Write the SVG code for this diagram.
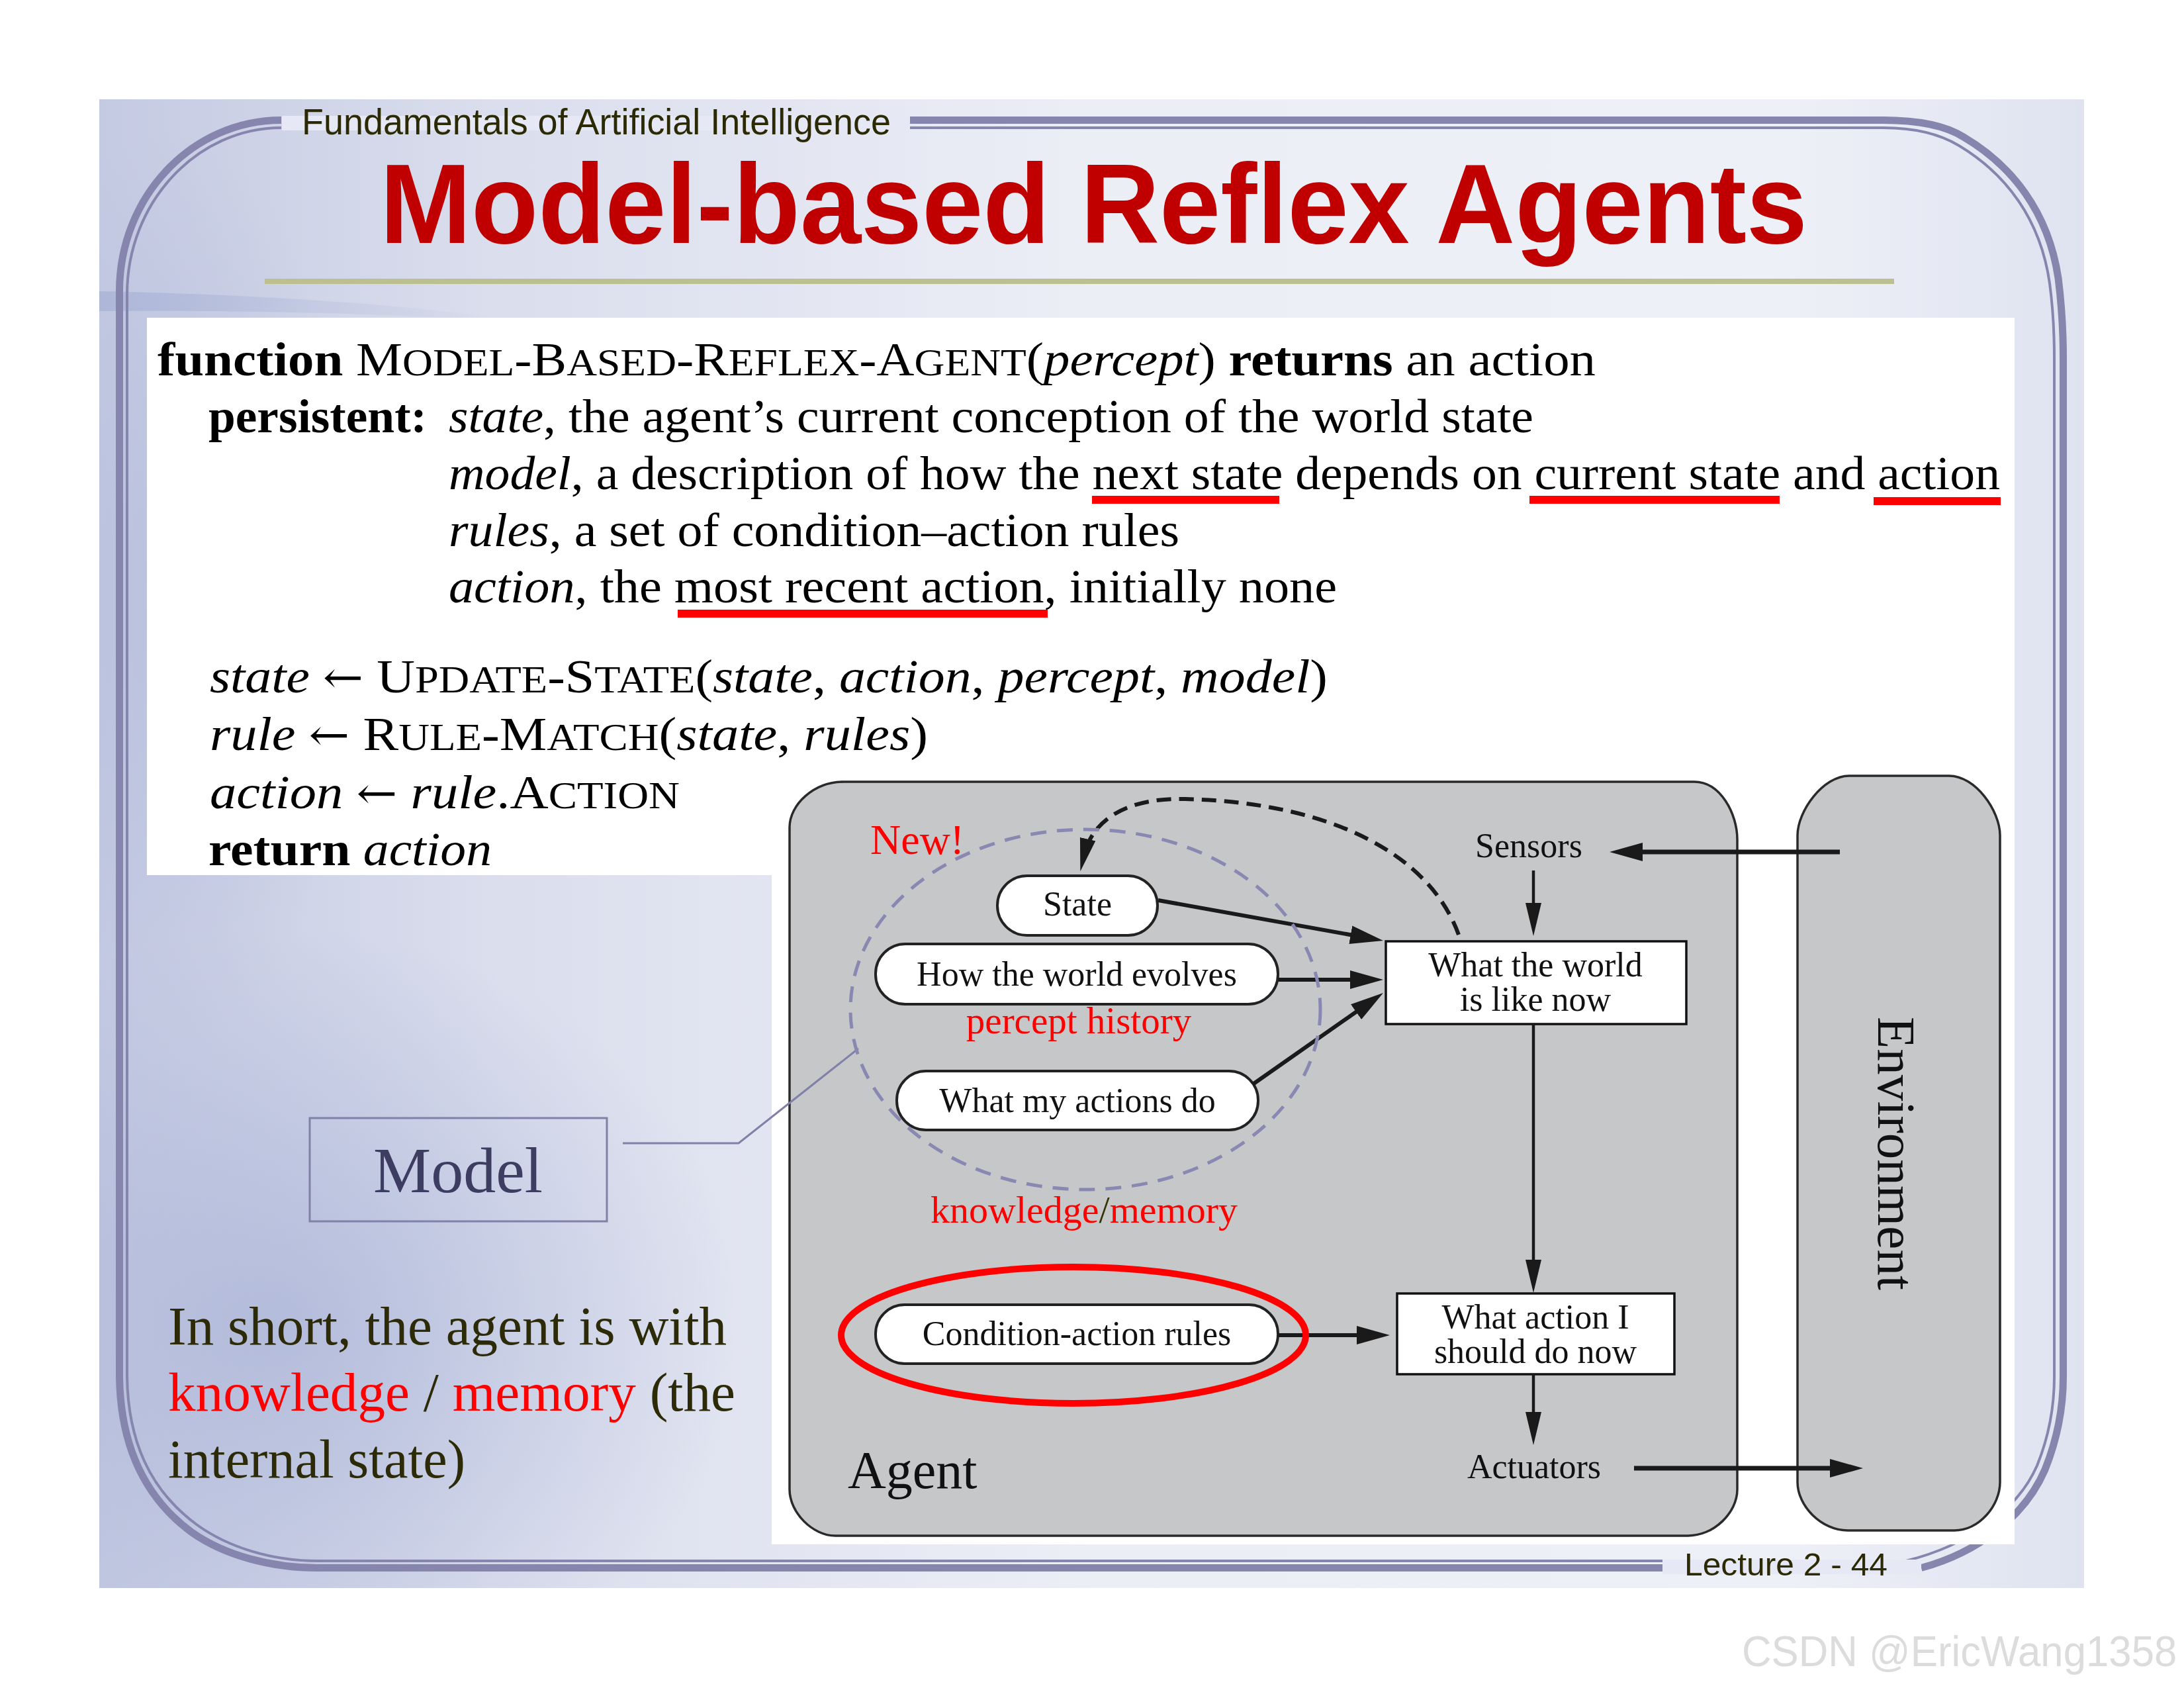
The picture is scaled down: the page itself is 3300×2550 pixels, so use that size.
<svg xmlns="http://www.w3.org/2000/svg" width="3300" height="2550" viewBox="0 0 3300 2550">
<defs>
<linearGradient id="bg" x1="0" y1="0" x2="1" y2="0">
<stop offset="0" stop-color="#c4cae2"/>
<stop offset="0.2" stop-color="#dadeed"/>
<stop offset="0.5" stop-color="#eceef6"/>
<stop offset="0.85" stop-color="#eef0f7"/>
<stop offset="1" stop-color="#dfe3f0"/>
</linearGradient>
<radialGradient id="glow" cx="0.5" cy="0.5" r="0.5">
<stop offset="0" stop-color="#a8b2d6" stop-opacity="0.7"/>
<stop offset="1" stop-color="#a8b2d6" stop-opacity="0"/>
</radialGradient>
<linearGradient id="streak" x1="0" y1="0" x2="1" y2="0">
<stop offset="0" stop-color="#9aa6d0" stop-opacity="0.8"/>
<stop offset="1" stop-color="#9aa6d0" stop-opacity="0"/>
</linearGradient>
<clipPath id="slideclip"><rect x="150" y="150" width="2999" height="2249"/></clipPath>
<marker id="ah" markerUnits="userSpaceOnUse" markerWidth="52" markerHeight="30" refX="25" refY="14" orient="auto">
<path d="M0,0 L50,14 L0,28 Z" fill="#1a1a1a"/>
</marker>
<marker id="ahs" markerUnits="userSpaceOnUse" markerWidth="52" markerHeight="26" refX="25" refY="12" orient="auto">
<path d="M0,0 L50,12 L0,24 Z" fill="#1a1a1a"/>
</marker>
</defs>
<style>
.code { font-family: "Liberation Serif", serif; font-size: 72px; fill: #000; }
.it { font-style: italic; }
.b { font-weight: bold; }
.sc { font-size: 58px; }
.ar { font-family: "DejaVu Serif", serif; font-size: 66px; }
.dg { font-family: "Liberation Serif", serif; font-size: 52px; fill: #111; text-anchor: middle; }
.pill { fill: #fff; stroke: #222; stroke-width: 4; }
.box { fill: #fff; stroke: #111; stroke-width: 3.5; }
.gray { fill: #c6c7c9; stroke: #2a2a2a; stroke-width: 3.5; }
.arr { fill: none; stroke: #1a1a1a; marker-end: url(#ah); }
.arrs { fill: none; stroke: #1a1a1a; marker-end: url(#ahs); }
.fthick { fill: none; stroke: #8585ad; stroke-width: 11; }
.fthin { fill: none; stroke: #8585ad; stroke-width: 4; }
.body { font-family: "Liberation Serif", serif; font-size: 82px; fill: #2d2a08; }
</style>

<!-- slide background -->
<rect x="0" y="0" width="3300" height="2550" fill="#ffffff"/>
<g id="slide-bg" clip-path="url(#slideclip)">
<rect x="150" y="150" width="2999" height="2249" fill="url(#bg)"/>
<ellipse cx="420" cy="2000" rx="700" ry="600" fill="url(#glow)"/>
<ellipse cx="250" cy="900" rx="300" ry="700" fill="url(#glow)" opacity="0.6"/>
<path d="M150,440 C400,445 600,460 750,480 L750,485 C600,475 400,468 150,470 Z" fill="url(#streak)" opacity="0.6"/>
</g>

<!-- frame -->
<g id="frame">
<path class="fthick" d="M425,181.5 C290,181.5 180.5,297 180.5,440 L180.5,2080 C182,2180 215,2260 290,2315 C340,2350 410,2368.5 480,2368.5 L2512,2368.5"/>
<path class="fthick" d="M2903,2368.5 C2990,2345 3060,2290 3090,2220 C3110,2170 3117.5,2120 3117.5,2080 L3117.5,540 C3117.5,500 3115,460 3110,420 C3095,320 3040,250 2967,207 C2940,190 2900,181.5 2845,181.5 L1375,181.5"/>
<path class="fthin" d="M425,193 C298,193 192,305 192,445 L192,2080 C193.5,2175 225,2250 297,2303 C345,2338 412,2358 480,2358 L2512,2358"/>
<path class="fthin" d="M2880,2358 C2975,2334 3048,2282 3078,2214 C3097,2167 3104,2120 3104,2080 L3104,540 C3104,502 3102,465 3097,428 C3083,330 3030,262 2960,220 C2932,203 2895,193 2845,193 L1375,193"/>
<rect x="426" y="175" width="949" height="22" fill="#e6e9f5"/>
<rect x="2512" y="2356" width="391" height="22" fill="#e6e9f5"/>
</g>

<g id="header">
<text x="456" y="203" font-family="Liberation Sans, Arial, sans-serif" font-size="55" fill="#2b2a05" textLength="890" lengthAdjust="spacingAndGlyphs">Fundamentals of Artificial Intelligence</text>
<text x="574" y="367" font-family="Liberation Sans, Arial, sans-serif" font-size="170" font-weight="bold" fill="#c00000" textLength="2157" lengthAdjust="spacingAndGlyphs">Model-based Reflex Agents</text>
<rect x="400" y="421" width="2462" height="8" fill="#bcbf90"/>
</g>

<!-- white panels -->
<rect x="222" y="480" width="2822" height="842" fill="#ffffff"/>
<rect x="1166" y="1150" width="1878" height="1183" fill="#ffffff"/>

<g id="pseudocode">
<text class="code" x="238" y="567" textLength="2173" lengthAdjust="spacingAndGlyphs"><tspan class="b">function</tspan> M<tspan class="sc">ODEL</tspan>-B<tspan class="sc">ASED</tspan>-R<tspan class="sc">EFLEX</tspan>-A<tspan class="sc">GENT</tspan>(<tspan class="it">percept</tspan>) <tspan class="b">returns</tspan> an action</text>
<text class="code b" x="315" y="653" textLength="330" lengthAdjust="spacingAndGlyphs">persistent:</text>
<text class="code" x="678" y="653" textLength="1639" lengthAdjust="spacingAndGlyphs"><tspan class="it">state</tspan>, the agent’s current conception of the world state</text>
<text class="code" x="678" y="739" textLength="2344" lengthAdjust="spacingAndGlyphs"><tspan class="it">model</tspan>, a description of how the next state depends on current state and action</text>
<text class="code" x="678" y="825" textLength="1104" lengthAdjust="spacingAndGlyphs"><tspan class="it">rules</tspan>, a set of condition–action rules</text>
<text class="code" x="678" y="910" textLength="1342" lengthAdjust="spacingAndGlyphs"><tspan class="it">action</tspan>, the most recent action, initially none</text>
<text class="code" x="317" y="1046" textLength="1689" lengthAdjust="spacingAndGlyphs"><tspan class="it">state</tspan> <tspan class="ar">←</tspan> U<tspan class="sc">PDATE</tspan>-S<tspan class="sc">TATE</tspan>(<tspan class="it">state</tspan>, <tspan class="it">action</tspan>, <tspan class="it">percept</tspan>, <tspan class="it">model</tspan>)</text>
<text class="code" x="317" y="1133" textLength="1085" lengthAdjust="spacingAndGlyphs"><tspan class="it">rule</tspan> <tspan class="ar">←</tspan> R<tspan class="sc">ULE</tspan>-M<tspan class="sc">ATCH</tspan>(<tspan class="it">state</tspan>, <tspan class="it">rules</tspan>)</text>
<text class="code" x="317" y="1221" textLength="710" lengthAdjust="spacingAndGlyphs"><tspan class="it">action</tspan> <tspan class="ar">←</tspan> <tspan class="it">rule</tspan>.A<tspan class="sc">CTION</tspan></text>
<text class="code" x="315" y="1307" textLength="428" lengthAdjust="spacingAndGlyphs"><tspan class="b">return</tspan> <tspan class="it">action</tspan></text>
<rect x="1650" y="749" width="283" height="12" fill="#ff0000"/>
<rect x="2311" y="749" width="378" height="12" fill="#ff0000"/>
<rect x="2831" y="751" width="192" height="12" fill="#ff0000"/>
<rect x="1024" y="921" width="559" height="12" fill="#ff0000"/>
</g>

<g id="node-agent">
<path class="gray" d="M1275,1181 L2560,1181 C2600,1181 2625,1230 2625,1268 L2625,2250 C2625,2285 2590,2320 2550,2320 L1262,2320 C1228,2320 1193,2285 1193,2250 L1193,1250 C1193,1215 1230,1181 1275,1181 Z"/>
<text x="1281" y="2248" font-family="Liberation Serif, serif" font-size="80" fill="#111">Agent</text>
</g>

<g id="node-environment">
<path class="gray" d="M2794,1172 L2945,1172 C2985,1172 3022,1225 3022,1262 L3022,2239 C3022,2275 2990,2312 2953,2312 L2792,2312 C2752,2312 2716,2275 2716,2239 L2716,1262 C2716,1225 2755,1172 2794,1172 Z"/>
<text transform="translate(2838,1536) rotate(90)" font-family="Liberation Serif, serif" font-size="80" fill="#111" textLength="413" lengthAdjust="spacingAndGlyphs">Environment</text>
</g>

<g id="node-sensors"><text class="dg" x="2310" y="1295">Sensors</text></g>
<g id="node-actuators"><text class="dg" x="2318" y="2233">Actuators</text></g>

<g id="node-state">
<rect class="pill" x="1507" y="1323" width="242" height="90" rx="45"/>
<text class="dg" x="1628" y="1383" font-size="50">State</text>
</g>
<g id="node-evolves">
<rect class="pill" x="1323" y="1426" width="608" height="91" rx="45"/>
<text class="dg" x="1627" y="1489">How the world evolves</text>
</g>
<g id="node-actions">
<rect class="pill" x="1355" y="1618" width="546" height="89" rx="44"/>
<text class="dg" x="1628" y="1680">What my actions do</text>
</g>
<g id="node-rules">
<rect class="pill" x="1323" y="1971" width="608" height="89" rx="44"/>
<text class="dg" x="1627" y="2032" font-size="53">Condition-action rules</text>
</g>
<g id="node-world-now">
<rect class="box" x="2094" y="1422" width="454" height="125"/>
<text class="dg" x="2320" y="1475">What the world</text>
<text class="dg" x="2320" y="1527">is like now</text>
</g>
<g id="node-action-now">
<rect class="box" x="2111" y="1954" width="419" height="122"/>
<text class="dg" x="2320" y="2007">What action I</text>
<text class="dg" x="2320" y="2059">should do now</text>
</g>

<g id="connectors">
<path class="arr" stroke-width="7" d="M2780,1287 L2457,1287"/>
<path class="arrs" stroke-width="4.5" d="M2317,1315 L2317,1389"/>
<path class="arr" stroke-width="6" d="M1750,1360 L2065.4,1416.6"/>
<path class="arr" stroke-width="6" d="M1931,1480 L2065,1480"/>
<path class="arr" stroke-width="6" d="M1893,1638 L2069.5,1514.3"/>
<path class="arrs" stroke-width="4.5" d="M2317,1547 L2317,1928"/>
<path class="arrs" stroke-width="4.5" d="M2317,2076 L2317,2158"/>
<path class="arr" stroke-width="7" d="M2469,2218 L2790,2218"/>
<path class="arr" stroke-width="6" d="M1931,2017 L2075,2017"/>
<path class="arrs" stroke-width="6" stroke-dasharray="22 12" d="M2204,1412 C2160,1290 2010,1212 1790,1207 C1700,1205 1650,1240 1638,1292"/>
<polyline points="941,1727 1116,1727 1297,1584" fill="none" stroke="#8080a8" stroke-width="3"/>
</g>

<g id="annotations">
<ellipse cx="1640" cy="1525" rx="355" ry="272" fill="none" stroke="#8888b2" stroke-width="5" stroke-dasharray="24 16"/>
<text x="1315" y="1290" font-family="Liberation Serif, serif" font-size="64" fill="#ff0000">New!</text>
<text x="1630" y="1561" font-family="Liberation Serif, serif" font-size="57" fill="#ff0000" text-anchor="middle">percept history</text>
<text x="1638" y="1847" font-family="Liberation Serif, serif" font-size="58" fill="#ff0000" text-anchor="middle">knowledge<tspan fill="#333300">/</tspan>memory</text>
<ellipse cx="1622" cy="2017" rx="351" ry="103" fill="none" stroke="#ff0000" stroke-width="10"/>
</g>

<g id="node-model">
<rect x="468" y="1689" width="449" height="156" fill="none" stroke="#8080a8" stroke-width="3"/>
<text x="692" y="1801" font-family="Liberation Serif, serif" font-size="98" fill="#3d3d62" text-anchor="middle">Model</text>
</g>

<g id="summary">
<text class="body" x="254" y="2031" textLength="844" lengthAdjust="spacingAndGlyphs">In short, the agent is with</text>
<text class="body" x="254" y="2131" textLength="857" lengthAdjust="spacingAndGlyphs"><tspan fill="#ff0000">knowledge</tspan> / <tspan fill="#ff0000">memory</tspan> (the</text>
<text class="body" x="254" y="2232" textLength="449" lengthAdjust="spacingAndGlyphs">internal state)</text>
</g>

<g id="footer">
<text x="2545" y="2380" font-family="Liberation Sans, Arial, sans-serif" font-size="49" fill="#2b2a05" textLength="307" lengthAdjust="spacingAndGlyphs">Lecture 2 - 44</text>
<text transform="translate(2632,2517) scale(0.95,1)" font-family="Liberation Sans, Arial, sans-serif" font-size="65" fill="#dcdcdc">CSDN @EricWang1358</text>
</g>
</svg>
